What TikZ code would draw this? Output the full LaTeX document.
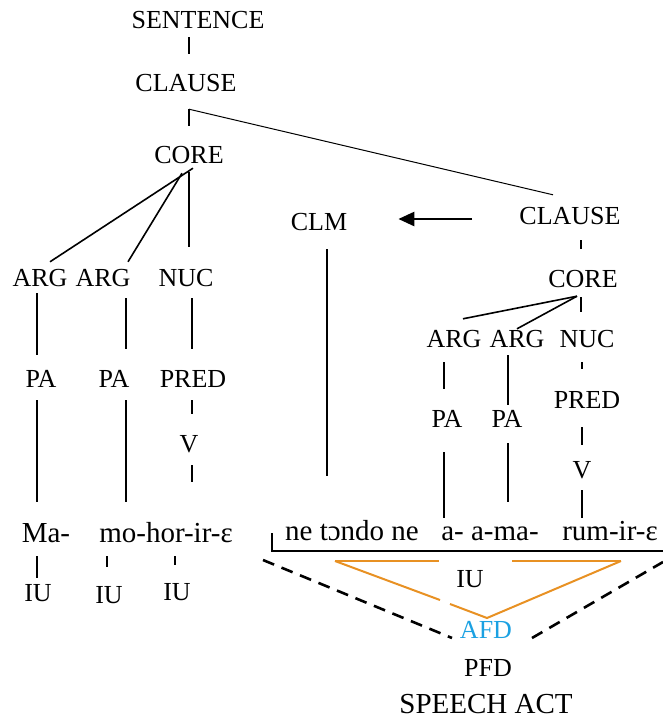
\documentclass[tikz,border=0pt]{standalone}
\usepackage{fontspec}
\setmainfont{Liberation Serif}
\usetikzlibrary{arrows.meta}
\definecolor{iuorange}{RGB}{232,145,35}
\definecolor{afdblue}{RGB}{27,161,226}
\begin{document}
\begin{tikzpicture}[x=1pt,y=-1pt,
  lab/.style={anchor=base,inner sep=0pt,text height=18pt,text depth=5pt,font=\fontsize{26}{30}\selectfont},
  big/.style={lab,font=\fontsize{29}{33}\selectfont},
  br/.style={line width=1.3pt},
  dsh/.style={line width=2.6pt,dash pattern=on 12pt off 8pt},
  org/.style={iuorange,line width=2pt}]
\useasboundingbox (0,0) rectangle (663,718);
% left tree
\node[lab] (sent) at (198,28) {SENTENCE};
\node[lab] (clauseL) at (186,91) {CLAUSE};
\node[lab] (coreL) at (189,163) {CORE};
\node[lab] (argA) at (40,286) {ARG};
\node[lab] (argB) at (103,286) {ARG};
\node[lab] (nucL) at (186,286) {NUC};
\node[lab] (paA) at (41,387) {PA};
\node[lab] (paB) at (114,387) {PA};
\node[lab] (predL) at (193,387) {PRED};
\node[lab] (vL) at (189,452) {V};
\node[big] (ma) at (46,542) {Ma-};
\node[big] (mo) at (166,542) {mo-hor-ir-ε};
\node[lab] (iuA) at (38,601) {IU};
\node[lab] (iuB) at (109,603) {IU};
\node[lab] (iuC) at (177,600) {IU};
% right part
\node[lab] (clm) at (319,230) {CLM};
\node[lab] (clauseR) at (570,224) {CLAUSE};
\node[lab] (coreR) at (583,287) {CORE};
\node[lab] (argRA) at (454,347) {ARG};
\node[lab] (argRB) at (517,347) {ARG};
\node[lab] (nucR) at (587,347) {NUC};
\node[lab] (paRA) at (447,427) {PA};
\node[lab] (paRB) at (507,427) {PA};
\node[lab] (predR) at (587,408) {PRED};
\node[lab] (vR) at (582,478) {V};
\node[big] (ne) at (352,540) {ne tɔndo ne};
\node[big] (ama) at (490,540) {a- a-ma-};
\node[big] (rum) at (610,540) {rum-ir-ε};
\node[lab] (iuD) at (470,587) {IU};
\node[lab,text=afdblue] (afd) at (486,638) {AFD};
\node[lab] (pfd) at (488,676) {PFD};
\node[big] (sa) at (486,713) {SPEECH ACT};
% left connectors
\draw[br] ([shift={(-9,4)}]sent.south) -- ([shift={(3,-19)}]clauseL.north);
\draw[br] ([shift={(3,13)}]clauseL.south) -- ([shift={(0,-19)}]coreL.north);
\draw[line width=1pt] ([shift={(3,13)}]clauseL.south) -- ([shift={(-17,-11)}]clauseR.north);
\draw[line width=1.6pt] ([shift={(4,0)}]coreL.south) -- ([shift={(10,-6)}]argA.north);
\draw[line width=1.6pt] ([shift={(-7,5)}]coreL.south) -- ([shift={(25,-6)}]argB.north);
\draw[br] ([shift={(0,4)}]coreL.south) -- ([shift={(3,-21)}]nucL.north);
\draw[line width=1.8pt] ([shift={(-3,2)}]argA.south) -- ([shift={(-4,-14)}]paA.north);
\draw[br] ([shift={(23,7)}]argB.south) -- ([shift={(12,-20)}]paB.north);
\draw[br] ([shift={(6,7)}]nucL.south) -- ([shift={(-1,-20)}]predL.north);
\draw[br] ([shift={(-4,8)}]paA.south) -- ([shift={(-9,-22)}]ma.north);
\draw[br] ([shift={(12,8)}]paB.south) -- ([shift={(-40,-22)}]mo.north);
\draw[br] ([shift={(-1,8)}]predL.south) -- ([shift={(3,-20)}]vL.north);
\draw[br] ([shift={(3,8)}]vL.south) -- ([shift={(26,-42)}]mo.north);
\draw[line width=1.8pt] ([shift={(-9,9)}]ma.south) -- ([shift={(-1,-5)}]iuA.north);
\draw[br] ([shift={(-59,9)}]mo.south) -- ([shift={(-2,-18)}]iuB.north);
\draw[br] ([shift={(9,9)}]mo.south) -- ([shift={(-2,-17)}]iuC.north);
% right connectors
\draw[br] ([shift={(8,14)}]clm.south) -- ([shift={(-25,-46)}]ne.north);
\draw[line width=2.6pt,-{Triangle[length=16pt,width=14pt]}] ([shift={(-47,1.5)}]clauseR.west) -- ([shift={(51,-4.5)}]clm.east);
\draw[br] ([shift={(11,11)}]clauseR.south) -- ([shift={(-2,-20)}]coreR.north);
\draw[line width=1.6pt] ([shift={(-6,4)}]coreR.south) -- ([shift={(9,-10)}]argRA.north);
\draw[line width=1.6pt] ([shift={(-6,4)}]coreR.south) -- ([shift={(0,0)}]argRB.north);
\draw[line width=1.8pt] ([shift={(-2,5)}]coreR.south) -- ([shift={(-6,-17)}]nucR.north);
\draw[br] ([shift={(-10,10)}]argRA.south) -- ([shift={(-3,-20)}]paRA.north);
\draw[line width=1.8pt] ([shift={(-9,3)}]argRB.south) -- ([shift={(1,-4)}]paRB.north);
\draw[br] ([shift={(-5,10)}]nucR.south) -- ([shift={(-5,-21)}]predR.north);
\draw[br] ([shift={(-3,20)}]paRA.south) -- ([shift={(-46,-4)}]ama.north);
\draw[line width=1.8pt] ([shift={(1,11)}]paRB.south) -- ([shift={(18,-20)}]ama.north);
\draw[br] ([shift={(-5,14)}]predR.south) -- ([shift={(0,-15)}]vR.north);
\draw[line width=1.8pt] ([shift={(0,7)}]vR.south) -- ([shift={(-28,-4)}]rum.north);
% bracket under the right words
\coordinate (brL) at (272,533);
\coordinate (brR) at (663,551);
\draw[line width=1.2pt] (brL) |- (brR);
% dashed speech-act frame
\coordinate (dA) at (263,560);
\coordinate (dB) at (452,638);
\coordinate (dC) at (532,638);
\coordinate (dD) at (663,562);
\draw[dsh] (dA) -- (dB);
\draw[dsh] (dC) -- (dD);
% orange IU triangle
\coordinate (oL) at (335,561);
\coordinate (oR) at (621,561);
\coordinate (oV) at (487,618);
\coordinate (oT1) at (439,561);
\coordinate (oT2) at (512,561);
\coordinate (oS1) at (440,600);
\coordinate (oS2) at (450,604);
\draw[org] (oL) -- (oT1);
\draw[org] (oT2) -- (oR);
\draw[org] (oL) -- (oS1);
\draw[org] (oS2) -- (oV) -- (oR);
\end{tikzpicture}
\end{document}
